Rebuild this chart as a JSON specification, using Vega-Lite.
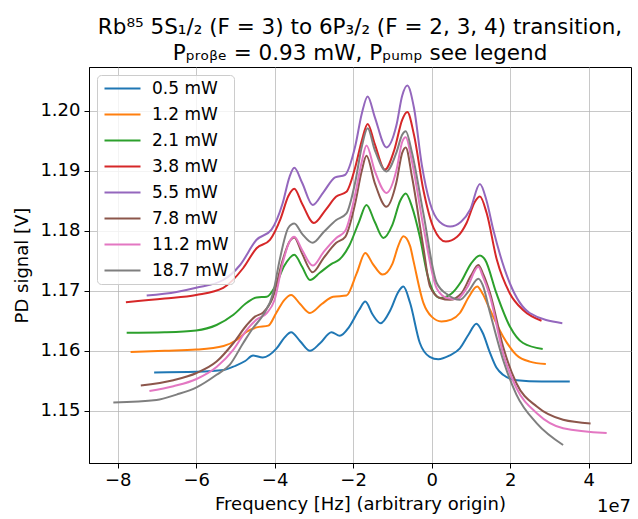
{
  "$schema": "https://vega.github.io/schema/vega-lite/v6.json",
  "autosize": {"type": "none"},
  "width": 542,
  "height": 396,
  "padding": {"left": 89, "top": 67, "right": 7, "bottom": 56},
  "config": {
    "font": "DejaVu Sans",
    "view": {"stroke": "black", "strokeWidth": 1},
    "axis": {
      "labelFont": "DejaVu Sans", "titleFont": "DejaVu Sans",
      "labelFontSize": 18, "titleFontSize": 18, "titleFontWeight": "normal",
      "labelColor": "black", "titleColor": "black",
      "domainColor": "black", "tickColor": "black", "tickSize": 5,
      "gridColor": "#b0b0b0", "gridOpacity": 0.7, "gridWidth": 1
    },
    "legend": {
      "labelFont": "DejaVu Sans", "labelFontSize": 17, "labelColor": "black"
    }
  },
  "title": {
    "text": ["Rb⁸⁵ 5S₁/₂ (F = 3) to 6P₃/₂ (F = 2, 3, 4) transition,", "Pₚᵣₒᵦₑ = 0.93 mW, Pₚᵤₘₚ see legend"],
    "font": "DejaVu Sans", "fontSize": 21.5, "fontWeight": "normal", "color": "black",
    "lineHeight": 26, "offset": 3, "anchor": "middle"
  },
  "data": {"values": [
    {"p":"0.5 mW","f":-7.07,"v":1.1564},{"p":"0.5 mW","f":-6.0,"v":1.1565},{"p":"0.5 mW","f":-5.3,"v":1.1568},{"p":"0.5 mW","f":-5.0,"v":1.1575},{"p":"0.5 mW","f":-4.75,"v":1.1583},{"p":"0.5 mW","f":-4.55,"v":1.1592},{"p":"0.5 mW","f":-4.3,"v":1.1589},{"p":"0.5 mW","f":-3.95,"v":1.1604},{"p":"0.5 mW","f":-3.75,"v":1.1622},{"p":"0.5 mW","f":-3.58,"v":1.1631},{"p":"0.5 mW","f":-3.35,"v":1.1616},{"p":"0.5 mW","f":-3.1,"v":1.16},{"p":"0.5 mW","f":-2.85,"v":1.1612},{"p":"0.5 mW","f":-2.55,"v":1.1631},{"p":"0.5 mW","f":-2.34,"v":1.1625},{"p":"0.5 mW","f":-2.1,"v":1.164},{"p":"0.5 mW","f":-1.85,"v":1.1668},{"p":"0.5 mW","f":-1.69,"v":1.1682},{"p":"0.5 mW","f":-1.5,"v":1.166},{"p":"0.5 mW","f":-1.3,"v":1.1646},{"p":"0.5 mW","f":-1.05,"v":1.1668},{"p":"0.5 mW","f":-0.85,"v":1.1698},{"p":"0.5 mW","f":-0.72,"v":1.1707},{"p":"0.5 mW","f":-0.55,"v":1.168},{"p":"0.5 mW","f":-0.3,"v":1.1613},{"p":"0.5 mW","f":-0.05,"v":1.159},{"p":"0.5 mW","f":0.17,"v":1.1586},{"p":"0.5 mW","f":0.45,"v":1.1592},{"p":"0.5 mW","f":0.72,"v":1.1604},{"p":"0.5 mW","f":0.95,"v":1.1628},{"p":"0.5 mW","f":1.14,"v":1.1645},{"p":"0.5 mW","f":1.3,"v":1.163},{"p":"0.5 mW","f":1.49,"v":1.1596},{"p":"0.5 mW","f":1.65,"v":1.1572},{"p":"0.5 mW","f":1.82,"v":1.156},{"p":"0.5 mW","f":2.17,"v":1.1551},{"p":"0.5 mW","f":2.8,"v":1.1549},{"p":"0.5 mW","f":3.52,"v":1.1549},
    {"p":"1.2 mW","f":-7.67,"v":1.1598},{"p":"1.2 mW","f":-6.8,"v":1.16},{"p":"1.2 mW","f":-6.0,"v":1.1602},{"p":"1.2 mW","f":-5.3,"v":1.1608},{"p":"1.2 mW","f":-4.97,"v":1.1618},{"p":"1.2 mW","f":-4.71,"v":1.1632},{"p":"1.2 mW","f":-4.46,"v":1.1639},{"p":"1.2 mW","f":-4.16,"v":1.1642},{"p":"1.2 mW","f":-3.96,"v":1.1663},{"p":"1.2 mW","f":-3.75,"v":1.1685},{"p":"1.2 mW","f":-3.58,"v":1.1693},{"p":"1.2 mW","f":-3.35,"v":1.1678},{"p":"1.2 mW","f":-3.1,"v":1.1663},{"p":"1.2 mW","f":-2.8,"v":1.1678},{"p":"1.2 mW","f":-2.51,"v":1.169},{"p":"1.2 mW","f":-2.17,"v":1.1692},{"p":"1.2 mW","f":-1.91,"v":1.1729},{"p":"1.2 mW","f":-1.69,"v":1.1763},{"p":"1.2 mW","f":-1.5,"v":1.1745},{"p":"1.2 mW","f":-1.25,"v":1.1727},{"p":"1.2 mW","f":-1.0,"v":1.1745},{"p":"1.2 mW","f":-0.85,"v":1.1775},{"p":"1.2 mW","f":-0.72,"v":1.1791},{"p":"1.2 mW","f":-0.55,"v":1.1775},{"p":"1.2 mW","f":-0.47,"v":1.1752},{"p":"1.2 mW","f":-0.21,"v":1.168},{"p":"1.2 mW","f":0.0,"v":1.1657},{"p":"1.2 mW","f":0.25,"v":1.1649},{"p":"1.2 mW","f":0.5,"v":1.1652},{"p":"1.2 mW","f":0.72,"v":1.1663},{"p":"1.2 mW","f":0.95,"v":1.169},{"p":"1.2 mW","f":1.16,"v":1.1707},{"p":"1.2 mW","f":1.3,"v":1.1695},{"p":"1.2 mW","f":1.49,"v":1.1668},{"p":"1.2 mW","f":1.82,"v":1.1624},{"p":"1.2 mW","f":2.16,"v":1.1593},{"p":"1.2 mW","f":2.5,"v":1.1582},{"p":"1.2 mW","f":2.91,"v":1.1578},
    {"p":"2.1 mW","f":-7.77,"v":1.163},{"p":"2.1 mW","f":-6.8,"v":1.1631},{"p":"2.1 mW","f":-6.0,"v":1.1634},{"p":"2.1 mW","f":-5.48,"v":1.1643},{"p":"2.1 mW","f":-5.05,"v":1.166},{"p":"2.1 mW","f":-4.71,"v":1.168},{"p":"2.1 mW","f":-4.46,"v":1.1689},{"p":"2.1 mW","f":-4.2,"v":1.169},{"p":"2.1 mW","f":-3.99,"v":1.1707},{"p":"2.1 mW","f":-3.75,"v":1.1742},{"p":"2.1 mW","f":-3.5,"v":1.176},{"p":"2.1 mW","f":-3.3,"v":1.174},{"p":"2.1 mW","f":-3.1,"v":1.1718},{"p":"2.1 mW","f":-2.85,"v":1.173},{"p":"2.1 mW","f":-2.55,"v":1.1745},{"p":"2.1 mW","f":-2.35,"v":1.1752},{"p":"2.1 mW","f":-2.1,"v":1.1775},{"p":"2.1 mW","f":-1.85,"v":1.1815},{"p":"2.1 mW","f":-1.66,"v":1.1843},{"p":"2.1 mW","f":-1.45,"v":1.1815},{"p":"2.1 mW","f":-1.23,"v":1.1788},{"p":"2.1 mW","f":-1.0,"v":1.181},{"p":"2.1 mW","f":-0.8,"v":1.185},{"p":"2.1 mW","f":-0.66,"v":1.1862},{"p":"2.1 mW","f":-0.5,"v":1.184},{"p":"2.1 mW","f":-0.3,"v":1.179},{"p":"2.1 mW","f":-0.1,"v":1.1725},{"p":"2.1 mW","f":0.21,"v":1.1688},{"p":"2.1 mW","f":0.5,"v":1.1695},{"p":"2.1 mW","f":0.75,"v":1.1715},{"p":"2.1 mW","f":1.0,"v":1.1745},{"p":"2.1 mW","f":1.23,"v":1.1759},{"p":"2.1 mW","f":1.36,"v":1.1752},{"p":"2.1 mW","f":1.65,"v":1.1696},{"p":"2.1 mW","f":1.99,"v":1.1641},{"p":"2.1 mW","f":2.33,"v":1.1613},{"p":"2.1 mW","f":2.83,"v":1.1603},
    {"p":"3.8 mW","f":-7.79,"v":1.1681},{"p":"3.8 mW","f":-6.8,"v":1.1687},{"p":"3.8 mW","f":-6.0,"v":1.1693},{"p":"3.8 mW","f":-5.31,"v":1.1705},{"p":"3.8 mW","f":-4.8,"v":1.1738},{"p":"3.8 mW","f":-4.46,"v":1.1771},{"p":"3.8 mW","f":-4.12,"v":1.1785},{"p":"3.8 mW","f":-3.85,"v":1.182},{"p":"3.8 mW","f":-3.65,"v":1.1858},{"p":"3.8 mW","f":-3.5,"v":1.187},{"p":"3.8 mW","f":-3.3,"v":1.1845},{"p":"3.8 mW","f":-3.0,"v":1.1813},{"p":"3.8 mW","f":-2.7,"v":1.1835},{"p":"3.8 mW","f":-2.43,"v":1.1857},{"p":"3.8 mW","f":-2.17,"v":1.1865},{"p":"3.8 mW","f":-1.95,"v":1.1905},{"p":"3.8 mW","f":-1.78,"v":1.195},{"p":"3.8 mW","f":-1.63,"v":1.1978},{"p":"3.8 mW","f":-1.45,"v":1.1945},{"p":"3.8 mW","f":-1.19,"v":1.1902},{"p":"3.8 mW","f":-0.95,"v":1.1935},{"p":"3.8 mW","f":-0.75,"v":1.1985},{"p":"3.8 mW","f":-0.62,"v":1.1998},{"p":"3.8 mW","f":-0.45,"v":1.196},{"p":"3.8 mW","f":-0.21,"v":1.1868},{"p":"3.8 mW","f":0.05,"v":1.1805},{"p":"3.8 mW","f":0.36,"v":1.1782},{"p":"3.8 mW","f":0.65,"v":1.179},{"p":"3.8 mW","f":0.89,"v":1.1813},{"p":"3.8 mW","f":1.1,"v":1.1848},{"p":"3.8 mW","f":1.23,"v":1.1857},{"p":"3.8 mW","f":1.4,"v":1.183},{"p":"3.8 mW","f":1.66,"v":1.1752},{"p":"3.8 mW","f":1.99,"v":1.1696},{"p":"3.8 mW","f":2.33,"v":1.1668},{"p":"3.8 mW","f":2.8,"v":1.165},
    {"p":"5.5 mW","f":-7.26,"v":1.1692},{"p":"5.5 mW","f":-6.5,"v":1.1698},{"p":"5.5 mW","f":-6.0,"v":1.1705},{"p":"5.5 mW","f":-5.31,"v":1.1718},{"p":"5.5 mW","f":-4.88,"v":1.1743},{"p":"5.5 mW","f":-4.46,"v":1.1785},{"p":"5.5 mW","f":-4.08,"v":1.1802},{"p":"5.5 mW","f":-3.8,"v":1.1845},{"p":"5.5 mW","f":-3.62,"v":1.189},{"p":"5.5 mW","f":-3.5,"v":1.1905},{"p":"5.5 mW","f":-3.3,"v":1.188},{"p":"5.5 mW","f":-3.03,"v":1.1843},{"p":"5.5 mW","f":-2.75,"v":1.1865},{"p":"5.5 mW","f":-2.46,"v":1.1889},{"p":"5.5 mW","f":-2.21,"v":1.1893},{"p":"5.5 mW","f":-1.95,"v":1.194},{"p":"5.5 mW","f":-1.78,"v":1.1995},{"p":"5.5 mW","f":-1.63,"v":1.2024},{"p":"5.5 mW","f":-1.45,"v":1.199},{"p":"5.5 mW","f":-1.15,"v":1.1939},{"p":"5.5 mW","f":-0.9,"v":1.1975},{"p":"5.5 mW","f":-0.75,"v":1.2025},{"p":"5.5 mW","f":-0.62,"v":1.2042},{"p":"5.5 mW","f":-0.45,"v":1.2005},{"p":"5.5 mW","f":-0.25,"v":1.191},{"p":"5.5 mW","f":-0.04,"v":1.1846},{"p":"5.5 mW","f":0.2,"v":1.1815},{"p":"5.5 mW","f":0.47,"v":1.1807},{"p":"5.5 mW","f":0.75,"v":1.1815},{"p":"5.5 mW","f":0.98,"v":1.1835},{"p":"5.5 mW","f":1.23,"v":1.1878},{"p":"5.5 mW","f":1.4,"v":1.185},{"p":"5.5 mW","f":1.57,"v":1.1802},{"p":"5.5 mW","f":1.99,"v":1.1713},{"p":"5.5 mW","f":2.5,"v":1.1663},{"p":"5.5 mW","f":3.33,"v":1.1646},
    {"p":"7.8 mW","f":-7.41,"v":1.1542},{"p":"7.8 mW","f":-6.58,"v":1.1551},{"p":"7.8 mW","f":-5.99,"v":1.1563},{"p":"7.8 mW","f":-5.48,"v":1.1582},{"p":"7.8 mW","f":-5.05,"v":1.1613},{"p":"7.8 mW","f":-4.71,"v":1.1643},{"p":"7.8 mW","f":-4.5,"v":1.1657},{"p":"7.8 mW","f":-4.29,"v":1.1664},{"p":"7.8 mW","f":-4.04,"v":1.169},{"p":"7.8 mW","f":-3.8,"v":1.175},{"p":"7.8 mW","f":-3.62,"v":1.1782},{"p":"7.8 mW","f":-3.5,"v":1.1789},{"p":"7.8 mW","f":-3.3,"v":1.1762},{"p":"7.8 mW","f":-3.03,"v":1.1731},{"p":"7.8 mW","f":-2.75,"v":1.1755},{"p":"7.8 mW","f":-2.43,"v":1.178},{"p":"7.8 mW","f":-2.2,"v":1.179},{"p":"7.8 mW","f":-1.95,"v":1.1845},{"p":"7.8 mW","f":-1.78,"v":1.19},{"p":"7.8 mW","f":-1.66,"v":1.1925},{"p":"7.8 mW","f":-1.45,"v":1.188},{"p":"7.8 mW","f":-1.15,"v":1.184},{"p":"7.8 mW","f":-0.9,"v":1.188},{"p":"7.8 mW","f":-0.75,"v":1.193},{"p":"7.8 mW","f":-0.66,"v":1.1939},{"p":"7.8 mW","f":-0.5,"v":1.189},{"p":"7.8 mW","f":-0.21,"v":1.1772},{"p":"7.8 mW","f":-0.04,"v":1.1707},{"p":"7.8 mW","f":0.21,"v":1.1688},{"p":"7.8 mW","f":0.47,"v":1.1685},{"p":"7.8 mW","f":0.75,"v":1.1695},{"p":"7.8 mW","f":1.0,"v":1.1725},{"p":"7.8 mW","f":1.19,"v":1.1743},{"p":"7.8 mW","f":1.3,"v":1.173},{"p":"7.8 mW","f":1.49,"v":1.1696},{"p":"7.8 mW","f":1.82,"v":1.1607},{"p":"7.8 mW","f":2.16,"v":1.1546},{"p":"7.8 mW","f":2.68,"v":1.1507},{"p":"7.8 mW","f":3.35,"v":1.1485},{"p":"7.8 mW","f":4.05,"v":1.1479},
    {"p":"11.2 mW","f":-7.19,"v":1.1533},{"p":"11.2 mW","f":-6.58,"v":1.1541},{"p":"11.2 mW","f":-5.99,"v":1.1553},{"p":"11.2 mW","f":-5.48,"v":1.1573},{"p":"11.2 mW","f":-5.05,"v":1.1602},{"p":"11.2 mW","f":-4.71,"v":1.1635},{"p":"11.2 mW","f":-4.46,"v":1.1652},{"p":"11.2 mW","f":-4.2,"v":1.1663},{"p":"11.2 mW","f":-4.0,"v":1.1685},{"p":"11.2 mW","f":-3.8,"v":1.1745},{"p":"11.2 mW","f":-3.62,"v":1.1782},{"p":"11.2 mW","f":-3.5,"v":1.179},{"p":"11.2 mW","f":-3.3,"v":1.1768},{"p":"11.2 mW","f":-3.03,"v":1.1742},{"p":"11.2 mW","f":-2.75,"v":1.1765},{"p":"11.2 mW","f":-2.43,"v":1.1788},{"p":"11.2 mW","f":-2.2,"v":1.18},{"p":"11.2 mW","f":-1.95,"v":1.186},{"p":"11.2 mW","f":-1.78,"v":1.1915},{"p":"11.2 mW","f":-1.66,"v":1.1942},{"p":"11.2 mW","f":-1.45,"v":1.19},{"p":"11.2 mW","f":-1.15,"v":1.1863},{"p":"11.2 mW","f":-0.9,"v":1.19},{"p":"11.2 mW","f":-0.75,"v":1.1948},{"p":"11.2 mW","f":-0.66,"v":1.1956},{"p":"11.2 mW","f":-0.5,"v":1.1915},{"p":"11.2 mW","f":-0.21,"v":1.1807},{"p":"11.2 mW","f":0.13,"v":1.1704},{"p":"11.2 mW","f":0.4,"v":1.1688},{"p":"11.2 mW","f":0.64,"v":1.1686},{"p":"11.2 mW","f":0.9,"v":1.1705},{"p":"11.2 mW","f":1.19,"v":1.174},{"p":"11.2 mW","f":1.3,"v":1.1725},{"p":"11.2 mW","f":1.49,"v":1.169},{"p":"11.2 mW","f":1.82,"v":1.1596},{"p":"11.2 mW","f":2.16,"v":1.1538},{"p":"11.2 mW","f":2.68,"v":1.1496},{"p":"11.2 mW","f":3.35,"v":1.1471},{"p":"11.2 mW","f":4.46,"v":1.1463},
    {"p":"18.7 mW","f":-8.11,"v":1.1514},{"p":"18.7 mW","f":-7.01,"v":1.1518},{"p":"18.7 mW","f":-6.5,"v":1.1527},{"p":"18.7 mW","f":-5.99,"v":1.1539},{"p":"18.7 mW","f":-5.48,"v":1.156},{"p":"18.7 mW","f":-5.14,"v":1.1577},{"p":"18.7 mW","f":-4.8,"v":1.1613},{"p":"18.7 mW","f":-4.55,"v":1.1638},{"p":"18.7 mW","f":-4.29,"v":1.166},{"p":"18.7 mW","f":-4.04,"v":1.1696},{"p":"18.7 mW","f":-3.87,"v":1.1752},{"p":"18.7 mW","f":-3.65,"v":1.1805},{"p":"18.7 mW","f":-3.5,"v":1.1812},{"p":"18.7 mW","f":-3.3,"v":1.1795},{"p":"18.7 mW","f":-3.03,"v":1.178},{"p":"18.7 mW","f":-2.75,"v":1.1798},{"p":"18.7 mW","f":-2.43,"v":1.1818},{"p":"18.7 mW","f":-2.17,"v":1.1829},{"p":"18.7 mW","f":-1.95,"v":1.188},{"p":"18.7 mW","f":-1.78,"v":1.194},{"p":"18.7 mW","f":-1.63,"v":1.1971},{"p":"18.7 mW","f":-1.45,"v":1.1935},{"p":"18.7 mW","f":-1.15,"v":1.1899},{"p":"18.7 mW","f":-0.9,"v":1.193},{"p":"18.7 mW","f":-0.75,"v":1.196},{"p":"18.7 mW","f":-0.66,"v":1.1966},{"p":"18.7 mW","f":-0.5,"v":1.193},{"p":"18.7 mW","f":-0.21,"v":1.1829},{"p":"18.7 mW","f":0.13,"v":1.1713},{"p":"18.7 mW","f":0.42,"v":1.1693},{"p":"18.7 mW","f":0.72,"v":1.1685},{"p":"18.7 mW","f":0.95,"v":1.17},{"p":"18.7 mW","f":1.19,"v":1.172},{"p":"18.7 mW","f":1.3,"v":1.171},{"p":"18.7 mW","f":1.49,"v":1.1663},{"p":"18.7 mW","f":1.82,"v":1.1585},{"p":"18.7 mW","f":2.16,"v":1.1527},{"p":"18.7 mW","f":2.68,"v":1.1479},{"p":"18.7 mW","f":3.35,"v":1.1443}
  ]},
  "layer": [
    {
      "mark": {"type": "line", "interpolate": "monotone", "strokeWidth": 2},
      "encoding": {
        "x": {"field": "f", "type": "quantitative",
              "scale": {"domain": [-8.73, 5.08], "nice": false, "zero": false},
              "axis": {"values": [-8, -6, -4, -2, 0, 2, 4], "title": "Frequency [Hz] (arbitrary origin)", "titlePadding": 6, "labelPadding": 3}},
        "y": {"field": "v", "type": "quantitative",
              "scale": {"domain": [1.1413, 1.2073], "nice": false, "zero": false},
              "axis": {"values": [1.15, 1.16, 1.17, 1.18, 1.19, 1.2], "format": ".2f", "title": "PD signal [V]", "titlePadding": 8, "labelPadding": 4}},
        "color": {"field": "p", "type": "nominal",
                  "scale": {"domain": ["0.5 mW","1.2 mW","2.1 mW","3.8 mW","5.5 mW","7.8 mW","11.2 mW","18.7 mW"],
                            "range": ["#1f77b4","#ff7f0e","#2ca02c","#d62728","#9467bd","#8c564b","#e377c2","#7f7f7f"]},
                  "legend": {"title": null, "orient": "top-left", "offset": 8,
                             "symbolType": "M-3,0L3,0", "symbolSize": 144, "symbolStrokeWidth": 2,
                             "symbolOffset": 12, "labelOffset": 21, "rowPadding": 8, "padding": 5,
                             "fillColor": "rgba(255,255,255,0.8)", "strokeColor": "#cccccc", "cornerRadius": 4}}
      }
    },
    {
      "data": {"values": [{"t": "1e7"}]},
      "mark": {"type": "text", "align": "right", "baseline": "middle", "dy": 44, "fontSize": 18, "font": "DejaVu Sans", "color": "black"},
      "encoding": {
        "x": {"datum": 5.08},
        "y": {"datum": 1.1413},
        "text": {"field": "t"}
      }
    }
  ]
}
